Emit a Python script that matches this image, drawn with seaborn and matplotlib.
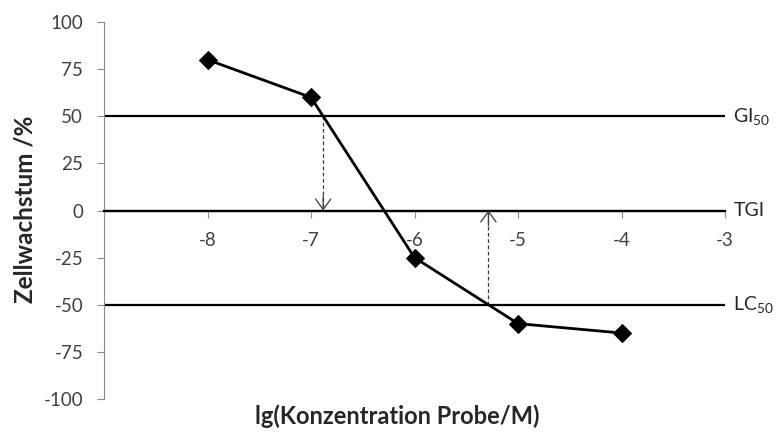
import numpy as np
import pandas as pd
import matplotlib
matplotlib.use("Agg")
import matplotlib.pyplot as plt
import seaborn as sns

# data
log_conc = [-8, -7, -6, -5, -4]
growth = [80, 60, -25, -60, -65]
ref_levels = [50, 0, -50]
ref_labels = ["GI$_{50}$", "TGI", "LC$_{50}$"]
x_ticks = [-8, -7, -6, -5, -4, -3]
y_ticks = [-100, -75, -50, -25, 0, 25, 50, 75, 100]

sns.set_style("white")
plt.rcParams["font.family"] = ["Lato", "DejaVu Sans"]
plt.rcParams["mathtext.fontset"] = "custom"
plt.rcParams["mathtext.rm"] = "Lato"
plt.rcParams["mathtext.it"] = "Lato"
plt.rcParams["mathtext.bf"] = "Lato:bold"

fig = plt.figure(figsize=(7.77, 4.32), dpi=100)
ax = fig.add_axes([104/777, 1-399/432, (725-104)/777, (399-22)/432])

df = pd.DataFrame({"x": log_conc, "y": growth})

# reference lines
for lvl, lab in zip(ref_levels, ref_labels):
    ax.plot([-9, -3], [lvl, lvl], color="black", lw=1.6, zorder=2, solid_capstyle="butt")
    ax.annotate(lab, xy=(-3, lvl), xytext=(6, 0), textcoords="offset points",
                ha="left", va="center", fontsize=14, color="#262626",
                annotation_clip=False)

sns.lineplot(data=df, x="x", y="y", ax=ax, color="black", lw=2.0,
             marker="D", markersize=9, markeredgecolor="black", zorder=4)

# arrows: GI50 crossing (down) and LC50 crossing (up)
xs = np.array(log_conc)[::-1]
ys = np.array(growth)[::-1]
x_gi = np.interp(50, ys, xs)
x_lc = np.interp(-50, ys, xs)
arrow_col = "#3a3a3a"
for xa, y0 in [(x_gi, 50), (x_lc, -50)]:
    ax.plot([xa, xa], [y0, 0], color=arrow_col, lw=0.9, ls=(0, (3, 2)), zorder=3)
    dy = 8 if y0 > 0 else -8
    ax.annotate("", xy=(xa, 0), xytext=(xa, dy),
                arrowprops=dict(arrowstyle="->,head_length=0.75,head_width=0.55",
                                color=arrow_col, lw=0.9, shrinkA=0, shrinkB=0),
                zorder=3)

ax.set_xlim(-9, -3)
ax.set_ylim(-100, 100)
ax.set_xticks(x_ticks)
ax.set_yticks(y_ticks)
ax.set_xticklabels([str(t) for t in x_ticks])
ax.set_yticklabels([str(t) for t in y_ticks])

for s in ["top", "right"]:
    ax.spines[s].set_visible(False)
ax.spines["bottom"].set_position(("data", 0))
ax.spines["bottom"].set_color("black")
ax.spines["bottom"].set_linewidth(1.6)
ax.spines["left"].set_color("#8c8c8c")
ax.spines["left"].set_linewidth(0.8)

ax.tick_params(axis="x", direction="out", length=5, width=0.8, color="#8c8c8c",
               labelsize=13.5, labelcolor="#404040", pad=10.5, bottom=True)
ax.tick_params(axis="y", direction="out", length=5, width=0.8, color="#8c8c8c",
               labelsize=13.5, labelcolor="#404040", pad=10, left=True)

ax.set_xlabel("")
ax.set_ylabel("")
fig.text(397/777, 1-416/432, "lg(Konzentration Probe/M)", ha="center", va="center",
         fontsize=17, fontweight="bold", color="#262626")
fig.text(25/777, 1-209/432, "Zellwachstum /%", ha="center", va="center",
         rotation=90, fontsize=17.5, fontweight="bold", color="#262626")

fig.savefig("out.png", dpi=100)
